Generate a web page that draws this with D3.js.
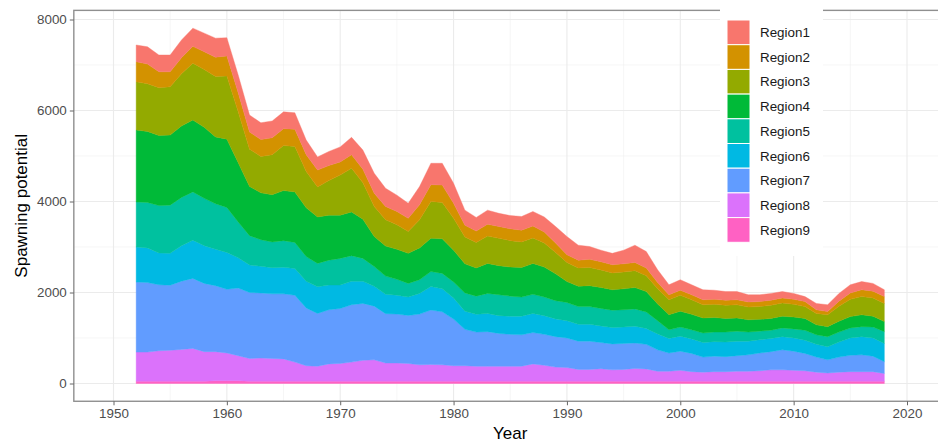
<!DOCTYPE html>
<html lang="en">
  <head>
    <meta charset="UTF-8" />
    <script src="https://d3js.org/d3.v7.min.js"></script>
    <title>Spawning potential by region</title>
    <style>
      body {
        margin: 0;
        background: #fff;
      }
      svg {
        display: block;
        font-family: 'Liberation Sans', Arial, sans-serif;
      }
      .axis text {
        font-size: 13.4px;
        fill: #4d4d4d;
      }
      .axis line {
        stroke: #666;
      }
    </style>
  </head>
  <body>
    <script>
      var years = d3.range(1952, 2019)
      var regions = ['Region1', 'Region2', 'Region3', 'Region4', 'Region5', 'Region6', 'Region7', 'Region8', 'Region9']
      var colors = ['#F8766D', '#D39200', '#93AA00', '#00BA38', '#00C19F', '#00B9E3', '#619CFF', '#DB72FB', '#FF61C3']

      // values per year, 1952..2018
      var region1 = [370, 380, 370, 370, 390, 400, 410, 420, 400, 390,
        370, 370, 370, 370, 360, 320, 290, 310, 330, 380,
        420, 440, 400, 360, 330, 400, 470, 480, 440, 330,
        300, 310, 290, 290, 300, 320, 330, 360, 400, 330,
        280, 255, 250, 300, 380, 360, 280, 220, 230, 220,
        220, 200, 190, 180, 160, 150, 150, 140, 130, 110,
        140, 150, 170, 180, 180, 170, 150]
      var region2 = [440, 430, 350, 330, 350, 370, 390, 420, 440, 420,
        380, 370, 370, 370, 380, 370, 370, 330, 290, 300,
        300, 290, 290, 290, 290, 330, 370, 380, 330, 260,
        250, 260, 260, 260, 260, 260, 240, 210, 170, 170,
        180, 180, 180, 180, 180, 170, 140, 110, 110, 110,
        110, 110, 110, 110, 110, 110, 110, 110, 110, 110,
        80, 70, 110, 140, 150, 150, 150]
      var region3 = [1060, 1050, 1050, 1060, 1150, 1250, 1270, 1330, 1390, 1120,
        820, 800, 880, 990, 1000, 800, 660, 760, 880, 960,
        800, 660, 580, 540, 480, 620, 810, 800, 700, 590,
        560, 600, 600, 580, 560, 560, 530, 470, 420, 400,
        400, 385, 370, 370, 370, 350, 330, 330, 350, 320,
        290, 290, 290, 290, 280, 280, 290, 290, 280, 260,
        250, 260, 330, 380, 400, 400, 400]
      var region4 = [1580, 1560, 1540, 1540, 1570, 1580, 1560, 1470, 1500, 1300,
        1080, 1030, 1040, 1100, 1110, 1070, 1020, 990, 950, 960,
        860, 660, 660, 660, 660, 700, 730, 760, 700, 640,
        620, 660, 640, 640, 650, 680, 660, 590, 460, 450,
        460, 460, 450, 460, 470, 450, 370, 330, 350, 340,
        330, 320, 300, 290, 270, 260, 260, 260, 260, 260,
        220, 220, 240, 250, 260, 240, 220]
      var region5 = [990, 1000, 1040, 1060, 1060, 1060, 1040, 1000, 990, 785,
        645, 585, 565, 585, 575, 545, 515, 545, 585, 565,
        505, 435, 400, 350, 300, 300, 330, 340, 350, 400,
        400, 440, 460, 440, 420, 420, 410, 400, 400, 390,
        390, 385, 380, 380, 380, 360, 290, 190, 200, 200,
        210, 210, 220, 220, 200, 190, 180, 190, 200, 220,
        210, 220, 220, 220, 220, 240, 260]
      var region6 = [770, 760, 700, 700, 780, 840, 830, 800, 810, 665,
        605, 585, 575, 585, 585, 585, 585, 545, 515, 515,
        485, 435, 425, 415, 405, 455, 515, 505, 465, 400,
        390, 400, 390, 400, 410, 420, 410, 390, 380, 370,
        370, 365, 360, 360, 370, 350, 350, 320, 330, 320,
        320, 320, 320, 320, 300, 290, 290, 290, 290, 290,
        280, 290, 330, 380, 400, 400, 400]
      var region7 = [1540, 1530, 1450, 1430, 1500, 1540, 1500, 1450, 1400, 1490,
        1450, 1430, 1420, 1430, 1470, 1270, 1160, 1190, 1210, 1260,
        1250, 1180, 1085, 1075, 1055, 1115, 1195, 1165, 1025, 800,
        750, 760, 720, 700, 690, 690, 680, 670, 650, 620,
        620, 575, 570, 570, 560, 540, 470, 400, 420, 400,
        330, 340, 330, 340, 360, 390, 400, 440, 420, 380,
        330, 290, 330, 360, 370, 340, 260]
      var region8 = [640, 640, 670, 680, 700, 720, 650, 640, 610, 550,
        500, 510, 500, 490, 420, 340, 330, 380, 390, 420,
        460, 470, 400, 400, 390, 360, 370, 360, 340, 340,
        330, 330, 330, 330, 330, 380, 350, 310, 300, 260,
        260, 275, 250, 260, 280, 270, 220, 220, 240, 210,
        200, 210, 210, 220, 220, 230, 250, 250, 240, 230,
        200, 180, 200, 210, 210, 210, 170]
      var region9 = [50, 50, 50, 50, 50, 50, 50, 60, 60, 60,
        50, 50, 50, 50, 50, 50, 50, 50, 50, 50,
        50, 50, 50, 50, 50, 50, 50, 50, 50, 50,
        50, 50, 50, 50, 50, 50, 50, 50, 50, 50,
        50, 50, 50, 50, 50, 50, 50, 50, 50, 50,
        50, 50, 50, 50, 50, 50, 50, 50, 50, 50,
        50, 50, 50, 50, 50, 50, 50]

      var xTicks = [1950, 1960, 1970, 1980, 1990, 2000, 2010, 2020]
      var yTicks = [0, 2000, 4000, 6000, 8000]

      var width = 938
      var height = 447

      var series = [region1, region2, region3, region4, region5, region6, region7, region8, region9]
      var table = years.map(function (yr, i) {
        var row = { year: yr }
        regions.forEach(function (r, k) {
          row[r] = series[k][i]
        })
        return row
      })

      var xScale = d3.scaleLinear().domain([1950, 2020]).range([113.5, 907])
      var yScale = d3.scaleLinear().domain([0, 8000]).range([383.5, 19.5])

      var yMax = d3.max(table, function (d) {
        return d3.sum(regions, function (r) {
          return d[r]
        })
      })
      // panel edges, with ggplot's 5% expansion
      var pLeft = xScale(1946.5)
      var pRight = xScale(2023.5)
      var pTop = yScale(yMax * 1.05)
      var pBottom = yScale(-yMax * 0.05)

      var svg = d3
        .select('body')
        .append('svg')
        .attr('width', width)
        .attr('height', height)

      svg.append('rect').attr('width', width).attr('height', height).attr('fill', '#fff')

      // grid (minor then major)
      var grid = svg.append('g')
      var xMinor = xTicks.slice(0, -1).map(function (d) { return d + 5 })
      var yMinor = yTicks.slice(0, -1).map(function (d) { return d + 1000 })
      grid.selectAll('.xminor').data(xMinor).enter().append('line')
        .attr('x1', xScale).attr('x2', xScale)
        .attr('y1', pTop).attr('y2', pBottom)
        .attr('stroke', '#f0f0f0').attr('stroke-width', 0.6)
      grid.selectAll('.yminor').data(yMinor).enter().append('line')
        .attr('x1', pLeft).attr('x2', pRight)
        .attr('y1', yScale).attr('y2', yScale)
        .attr('stroke', '#f0f0f0').attr('stroke-width', 0.6)
      grid.selectAll('.xmajor').data(xTicks).enter().append('line')
        .attr('x1', xScale).attr('x2', xScale)
        .attr('y1', pTop).attr('y2', pBottom)
        .attr('stroke', '#ebebeb').attr('stroke-width', 1.1)
      grid.selectAll('.ymajor').data(yTicks).enter().append('line')
        .attr('x1', pLeft).attr('x2', pRight)
        .attr('y1', yScale).attr('y2', yScale)
        .attr('stroke', '#ebebeb').attr('stroke-width', 1.1)

      // Region9 at the bottom, Region1 on top
      var stack = d3.stack().keys(regions.slice().reverse())
      var layers = stack(table)

      var area = d3
        .area()
        .x(function (d) { return xScale(d.data.year) })
        .y0(function (d) { return yScale(d[0]) })
        .y1(function (d) { return yScale(d[1]) })

      svg
        .append('g')
        .selectAll('path')
        .data(layers)
        .enter()
        .append('path')
        .attr('d', area)
        .attr('fill', function (d) {
          return colors[regions.indexOf(d.key)]
        })
        .attr('stroke', function (d) {
          return colors[regions.indexOf(d.key)]
        })
        .attr('stroke-width', 0.4)

      svg
        .append('rect')
        .attr('x', pLeft)
        .attr('y', pTop)
        .attr('width', pRight - pLeft)
        .attr('height', pBottom - pTop)
        .attr('fill', 'none')
        .attr('stroke', '#8f8f8f')
        .attr('stroke-width', 1.4)

      var xAxis = d3.axisBottom(xScale).tickValues(xTicks).tickSize(4).tickPadding(3).tickFormat(d3.format('d'))
      var yAxis = d3.axisLeft(yScale).tickValues(yTicks).tickSize(4).tickPadding(3).tickFormat(d3.format('d'))

      svg.append('g').attr('class', 'axis').attr('transform', 'translate(0,' + pBottom + ')').call(xAxis)
        .call(function (g) { g.select('.domain').remove() })
      svg.append('g').attr('class', 'axis').attr('transform', 'translate(' + pLeft + ',0)').call(yAxis)
        .call(function (g) { g.select('.domain').remove() })

      svg
        .append('text')
        .attr('x', (pLeft + pRight) / 2)
        .attr('y', 439)
        .attr('text-anchor', 'middle')
        .attr('font-size', 17)
        .attr('fill', '#000')
        .text('Year')

      svg
        .append('text')
        .attr('transform', 'translate(27,' + (pTop + pBottom) / 2 + ') rotate(-90)')
        .attr('text-anchor', 'middle')
        .attr('font-size', 17)
        .attr('fill', '#000')
        .text('Spawning potential')

      // legend inside the panel, top right
      var legend = svg.append('g')
      legend.append('rect')
        .attr('x', 720).attr('y', 0)
        .attr('width', 103).attr('height', 256)
        .attr('fill', '#fff')

      var keyH = 24.7
      legend.selectAll('.key').data(regions).enter().append('rect')
        .attr('x', 727)
        .attr('y', function (d, i) { return 20 + i * keyH })
        .attr('width', 23)
        .attr('height', keyH)
        .attr('fill', function (d, i) { return colors[i] })
        .attr('stroke', '#fff')
        .attr('stroke-width', 1)

      legend.selectAll('.lab').data(regions).enter().append('text')
        .attr('x', 760)
        .attr('y', function (d, i) { return 20 + i * keyH + keyH / 2 })
        .attr('dy', '0.35em')
        .attr('font-size', 13.4)
        .attr('fill', '#1a1a1a')
        .text(function (d) { return d })
    </script>
  </body>
</html>
